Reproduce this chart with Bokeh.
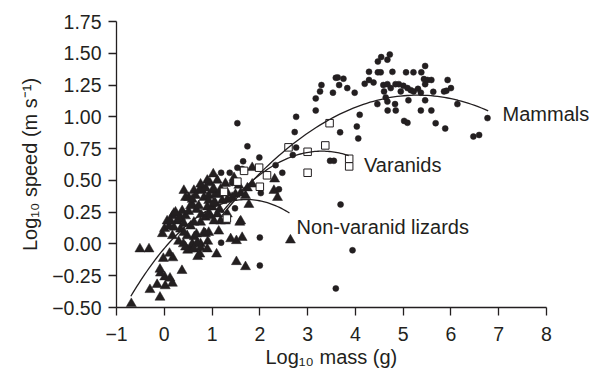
from bokeh.plotting import figure
from bokeh.models import FixedTicker, Label, Title
from bokeh.embed import file_html
from bokeh.resources import INLINE

# ---------------- data ----------------
mammal_x = [4.72, 4.67, 4.54, 4.47, 5.46, 4.285, 4.47, 4.53, 4.775, 5.06, 5.215, 5.38,
            3.59, 3.63, 3.75, 3.66, 3.83, 3.985, 3.53, 3.29, 3.26, 3.17, 3.17, 2.76, 2.73,
            4.285, 4.38, 4.195, 4.585, 4.67, 4.74, 4.84, 4.91, 5.005, 5.09, 5.16, 5.435,
            5.51, 5.59, 5.46, 5.93, 6.0, 5.905, 5.855, 5.37, 5.63, 4.635, 4.67, 4.46, 4.83,
            4.675, 4.845, 5.11, 5.46, 5.37, 5.59, 6.135, 5.02, 5.09, 5.68, 5.88, 4.09, 4.03,
            4.06, 3.68, 6.765, 6.47, 6.59, 3.47, 3.55, 2.47, 2.69, 2.76, 4.95, 5.22, 5.31,
            4.60,
            1.53, 1.74, 1.65, 1.99, 2.33, 1.53, 1.63, 1.19, 1.37, 1.42, 1.51, 2.40, 2.02,
            1.48, 2.0, 1.19, 2.0, 3.69, 3.94, 3.59]
mammal_y = [1.49, 1.45, 1.47, 1.435, 1.40, 1.354, 1.35, 1.35, 1.354, 1.35, 1.35, 1.35,
            1.307, 1.31, 1.30, 1.25, 1.226, 1.19, 1.19, 1.25, 1.20, 1.145, 1.05, 1.00, 0.88,
            1.29, 1.27, 1.26, 1.25, 1.257, 1.226, 1.257, 1.257, 1.244, 1.226, 1.21, 1.297,
            1.29, 1.29, 1.257, 1.29, 1.226, 1.205, 1.20, 1.19, 1.197, 1.152, 1.12, 1.10, 1.10,
            1.05, 1.05, 1.13, 1.13, 1.05, 1.05, 1.10, 0.968, 0.953, 0.95, 0.908, 1.016, 0.924,
            0.83, 0.878, 0.99, 0.845, 0.857, 0.654, 0.654, 0.56, 0.70, 0.758, 1.20, 1.20, 1.22,
            1.20,
            0.95, 0.768, 0.65, 0.68, 0.62, 0.60, 0.59, 0.56, 0.56, 0.48, 0.48, 0.43, 0.40,
            0.28, 0.05, 0.01, -0.17, 0.31, -0.05, -0.35]

varanid_x = [1.25, 1.31, 1.53, 1.67, 1.985, 2.15, 2.0, 2.60, 3.0, 3.0, 3.37, 3.46, 3.87, 3.87]
varanid_y = [0.41, 0.20, 0.49, 0.575, 0.60, 0.54, 0.45, 0.76, 0.725, 0.56, 0.775, 0.95, 0.67, 0.61]

lizard_x = [-0.69, -0.09, -0.30, -0.15, 0.02, 0.17, 0.01, -0.08, -0.09, 0.37, 0.12, -0.51,
            -0.32, -0.02, 0.11, 0.18, -0.04, 0.005, 0.10, 0.06, 0.17, 0.27, 0.20, 0.30, 0.40,
            0.49, 0.55, 0.445, 0.585, 0.48, 0.63, 0.70, 0.745, 0.675, 0.76, 0.91, 1.095, 0.83,
            0.34, 0.445, 0.375, 0.51, 0.585, 0.675, 0.77, 0.86, 0.93, 0.90, 1.005, 0.97, 1.11,
            1.16, 1.07, 0.76, 0.86, 0.41, 0.51, 0.62, 0.655, 0.795, 0.83, 0.93, 1.005, 1.07,
            0.93, 1.04, 0.235, 0.55, 0.72, 1.21, 1.32, 0.955, 0.745, 0.865, 1.04, 0.445, 0.585,
            0.13, 0.305, 0.41, 0.62, 1.18, 0.20, 0.34, 0.55, 0.17, 0.41, 0.93, 0.69, 0.62,
            0.76, 0.90, 1.025, 1.11, 1.28, 1.84, 0.76, 0.90, 1.14, 1.18, 1.32, 1.42, 1.49,
            1.60, 1.70, 1.74, 1.84, 1.56, 1.46, 1.32, 1.04, 1.28, 1.14, 1.60, 1.77, 1.39,
            1.51, 1.63, 2.37, 2.64, 1.70, 1.51, 1.58, 2.295, 2.31]
lizard_y = [-0.47, -0.42, -0.36, -0.32, -0.33, -0.31, -0.26, -0.23, -0.20, -0.21, -0.27, -0.04,
            -0.04, -0.115, -0.075, -0.11, 0.08, 0.12, 0.14, 0.18, 0.22, 0.18, 0.24, 0.02, 0.00,
            -0.05, -0.04, -0.025, 0.0, 0.064, 0.056, -0.10, -0.08, 0.077, 0.0, 0.02, -0.08, 0.09,
            0.21, 0.22, 0.26, 0.255, 0.31, 0.27, 0.23, 0.21, 0.24, 0.29, 0.29, 0.22, 0.235,
            0.27, 0.32, 0.17, 0.08, 0.42, 0.365, 0.42, 0.38, 0.42, 0.365, 0.38, 0.42, 0.39,
            0.34, 0.325, 0.25, 0.30, 0.30, 0.34, 0.35, 0.48, 0.43, 0.44, 0.43, 0.365, 0.35,
            0.18, 0.195, 0.16, 0.17, 0.18, 0.13, 0.116, 0.14, 0.064, 0.09, 0.09, 0.01, -0.04,
            -0.03, -0.04, 0.55, 0.50, 0.475, 0.60, 0.47, 0.50, 0.39, 0.43, 0.40, 0.365, 0.39,
            0.40, 0.38, 0.44, 0.47, 0.46, 0.52, 0.235, 0.18, 0.18, 0.10, 0.18, 0.31, 0.04,
            0.025, 0.05, 0.365, 0.03, -0.18, -0.14, 0.17, 0.42, 0.51]

# fitted quadratic curves: y = a + b*x + c*x^2 over [x0, x1]
curve_names = ["Mammals", "Varanids", "Non-varanid lizards"]
curve_a = [-0.417, -0.468, -0.035]
curve_b = [0.599, 0.726, 0.447]
curve_c = [-0.0565, -0.11, -0.13]
curve_x0 = [1.2, 1.2, -0.7]
curve_x1 = [6.78, 3.86, 2.62]
# label anchor (left, vertical middle) per curve, data units
label_x = [7.08, 4.18, 2.77]
label_y = [1.026, 0.622, 0.135]

x_ticks = [-1, 0, 1, 2, 3, 4, 5, 6, 7, 8]
x_tick_labels = ["\u22121", "0", "1", "2", "3", "4", "5", "6", "7", "8"]
y_ticks = [-0.5, -0.25, 0.0, 0.25, 0.5, 0.75, 1.0, 1.25, 1.5, 1.75]
y_tick_labels = ["\u22120.50", "\u22120.25", "0.00", "0.25", "0.50", "0.75",
                 "1.00", "1.25", "1.50", "1.75"]
x_title = "Log\u2081\u2080 mass (g)"
y_title = "Log\u2081\u2080 speed (m s\u207b\u00b9)"

# ---------------- layout ----------------
W, H = 595, 373
FL, FT, FB = 116, 21, 307          # frame left / top / bottom (px)
PX_PER_X = 430 / 9                 # x scale: -1..8 spans 430 px
XMIN, XMAX_AXIS, YMIN, YMAX = -1, 8, -0.5, 1.75
XMAX_VIEW = XMIN + (W - FL) / PX_PER_X   # frame runs to the right edge so labels are not clipped
INK = "#231f20"
FONT = "Liberation Sans"

p = figure(width=W, height=H, x_range=(XMIN, XMAX_VIEW), y_range=(YMIN, YMAX),
           output_backend="svg", toolbar_location=None,
           min_border_left=FL, min_border_right=0,
           min_border_top=FT, min_border_bottom=H - FB)
p.outline_line_color = None
p.background_fill_color = "white"
p.border_fill_color = "white"
p.xgrid.visible = False
p.ygrid.visible = False

for ax in (p.xaxis[0], p.yaxis[0]):
    ax.axis_line_color = INK
    ax.axis_line_width = 1.3
    ax.major_tick_line_color = INK
    ax.major_tick_line_width = 1.3
    ax.major_tick_out = 8
    ax.major_tick_in = 0
    ax.minor_tick_line_color = None
    ax.major_label_text_font = FONT
    ax.major_label_text_font_size = "19.5px"
    ax.major_label_text_color = INK

p.xaxis.bounds = (XMIN, XMAX_AXIS)
p.xaxis.ticker = FixedTicker(ticks=x_ticks)
p.xaxis.major_label_overrides = {t: l for t, l in zip(x_ticks, x_tick_labels)}
p.yaxis.ticker = FixedTicker(ticks=y_ticks)
p.yaxis.major_label_overrides = {t: l for t, l in zip(y_ticks, y_tick_labels)}
p.xaxis.major_label_standoff = 11
p.yaxis.major_label_standoff = 7

p.yaxis.axis_label = y_title
p.yaxis.axis_label_text_font = FONT
p.yaxis.axis_label_text_font_size = "20px"
p.yaxis.axis_label_text_font_style = "normal"
p.yaxis.axis_label_text_color = INK
p.yaxis.axis_label_standoff = 8

p.add_layout(Title(text=x_title, align="left", offset=265 - FL, standoff=0,
                   text_font=FONT, text_font_size="20px", text_font_style="normal",
                   text_color=INK), "below")

# ---------------- marks ----------------
p.scatter(lizard_x, lizard_y, marker="triangle", size=10, fill_color=INK, line_color=INK,
          line_width=0.5)
p.scatter(mammal_x, mammal_y, marker="circle", size=6, fill_color=INK, line_color=INK,
          line_width=0.5)
p.scatter(varanid_x, varanid_y, marker="square", size=7.5, fill_color="white",
          line_color=INK, line_width=1)

for a, b, c, x0, x1 in zip(curve_a, curve_b, curve_c, curve_x0, curve_x1):
    n = 80
    xs = [x0 + (x1 - x0) * i / (n - 1) for i in range(n)]
    ys = [a + b * x + c * x * x for x in xs]
    p.line(xs, ys, line_color=INK, line_width=1.3)

for name, lx, ly in zip(curve_names, label_x, label_y):
    p.add_layout(Label(x=lx, y=ly, text=name, text_font=FONT, text_font_size="20px",
                       text_color=INK, text_align="left", text_baseline="middle"))

open("out.html", "w").write(file_html(p, INLINE))
